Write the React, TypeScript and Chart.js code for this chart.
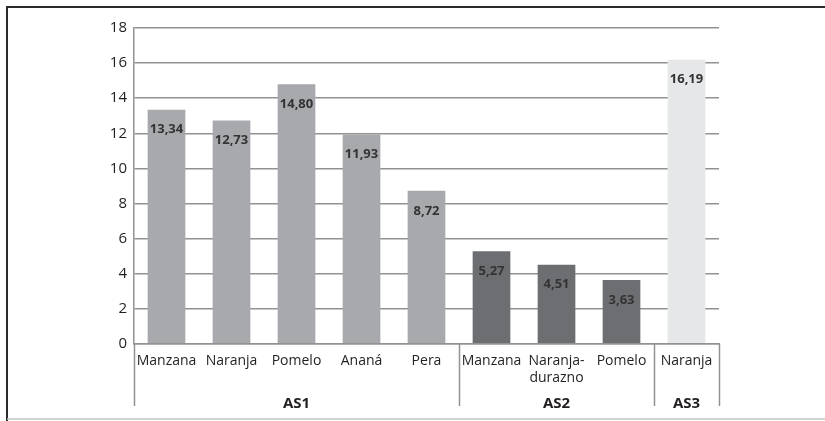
import React, { useEffect, useRef } from "react";
import { Chart, registerables } from "chart.js";

Chart.register(...registerables);

// Fruit categories, their values and the trial group each belongs to
const categories: (string | string[])[] = [
  "Manzana",
  "Naranja",
  "Pomelo",
  "Ananá",
  "Pera",
  "Manzana",
  ["Naranja-", "durazno"],
  "Pomelo",
  "Naranja",
];
const values: number[] = [13.34, 12.73, 14.8, 11.93, 8.72, 5.27, 4.51, 3.63, 16.19];
const groupNames: string[] = ["AS1", "AS2", "AS3"];
const groupSizes: number[] = [5, 3, 1];
const groupColors: string[] = ["#a7a9ac", "#6d6e71", "#e6e7e8"];
const yTicks: number[] = [0, 2, 4, 6, 8, 10, 12, 14, 16, 18];

const FONT = "'Open Sans', 'DejaVu Sans', sans-serif";
const TEXT = "#231f20";
const GRID = "#929292";

const barColors: string[] = groupSizes.flatMap((n, g) => Array(n).fill(groupColors[g]));

const fmt = (v: number) => v.toFixed(2).replace(".", ",");

// Page frame: dark top/left rules and a light rule along the bottom
const framePlugin = {
  id: "frame",
  beforeDraw(chart: any) {
    const { ctx, width, height } = chart;
    ctx.save();
    ctx.fillStyle = "#ffffff";
    ctx.fillRect(0, 0, width, height);
    ctx.strokeStyle = "#2b2b2b";
    ctx.lineWidth = 2;
    ctx.beginPath();
    ctx.moveTo(7, height);
    ctx.lineTo(7, 7);
    ctx.lineTo(width, 7);
    ctx.stroke();
    ctx.strokeStyle = "#c4c4c4";
    ctx.lineWidth = 1.5;
    ctx.beginPath();
    ctx.moveTo(7, height - 2);
    ctx.lineTo(width, height - 2);
    ctx.stroke();
    ctx.restore();
  },
};

// Value labels inside the top of each bar
const valueLabelPlugin = {
  id: "valueLabels",
  afterDatasetsDraw(chart: any) {
    const { ctx } = chart;
    const meta = chart.getDatasetMeta(0);
    ctx.save();
    ctx.font = `bold 13px ${FONT}`;
    ctx.fillStyle = "#333333";
    ctx.textAlign = "center";
    ctx.textBaseline = "middle";
    meta.data.forEach((bar: any, i: number) => {
      ctx.fillText(fmt(values[i]), bar.x, bar.y + 20);
    });
    ctx.restore();
  },
};

// Group separators and group names below the category labels
const groupPlugin = {
  id: "groups",
  afterDraw(chart: any) {
    const { ctx, chartArea } = chart;
    const x = chart.scales.x;
    const step = (chartArea.right - chartArea.left) / categories.length;
    const lineBottom = 406;
    ctx.save();
    ctx.strokeStyle = GRID;
    ctx.lineWidth = 1.5;
    let start = 0;
    const edges: number[] = [0];
    groupSizes.forEach((n) => {
      start += n;
      edges.push(start);
    });
    edges.forEach((idx) => {
      const px = Math.round(x.left + idx * step) + 0.5;
      ctx.beginPath();
      ctx.moveTo(px, chartArea.bottom);
      ctx.lineTo(px, lineBottom);
      ctx.stroke();
    });
    ctx.font = `bold 15px ${FONT}`;
    ctx.fillStyle = TEXT;
    ctx.textAlign = "center";
    ctx.textBaseline = "middle";
    groupNames.forEach((name, g) => {
      const cx = x.left + ((edges[g] + edges[g + 1]) / 2) * step;
      ctx.fillText(name, cx, 404);
    });
    ctx.restore();
  },
};

export default function App() {
  const ref = useRef<HTMLCanvasElement>(null);

  useEffect(() => {
    if (!ref.current) return;
    const chart = new Chart(ref.current, {
      type: "bar",
      data: {
        labels: categories,
        datasets: [
          {
            data: values,
            backgroundColor: barColors,
            borderWidth: 0,
            barPercentage: 0.58,
            categoryPercentage: 1,
          },
        ],
      },
      options: {
        responsive: false,
        animation: false,
        devicePixelRatio: 1,
        layout: { padding: { left: 0, top: 28, right: 106, bottom: 0 } },
        plugins: {
          legend: { display: false },
          tooltip: { enabled: false },
        },
        scales: {
          x: {
            grid: { display: false, drawTicks: false },
            border: { display: true, color: GRID, width: 1.5 },
            ticks: {
              color: TEXT,
              font: { family: FONT, size: 14 },
              padding: 9,
              maxRotation: 0,
              autoSkip: false,
            },
            afterFit(scale: any) {
              scale.height = 421 - 28 - (343.5 - 27.7) - 0;
            },
          },
          y: {
            min: 0,
            max: 18,
            afterBuildTicks(scale: any) {
              scale.ticks = yTicks.map((v) => ({ value: v }));
            },
            grid: { color: GRID, lineWidth: 1.5, drawTicks: false },
            border: { display: true, color: GRID, width: 1.5 },
            ticks: {
              color: TEXT,
              font: { family: FONT, size: 15 },
              padding: 7,
            },
            afterFit(scale: any) {
              scale.width = 134;
            },
          },
        },
      },
      plugins: [framePlugin, valueLabelPlugin, groupPlugin],
    });
    return () => chart.destroy();
  }, []);

  return (
    <div style={{ position: "absolute", left: 0, top: 0, width: 825, height: 421 }}>
      <canvas ref={ref} width={825} height={421} />
    </div>
  );
}
